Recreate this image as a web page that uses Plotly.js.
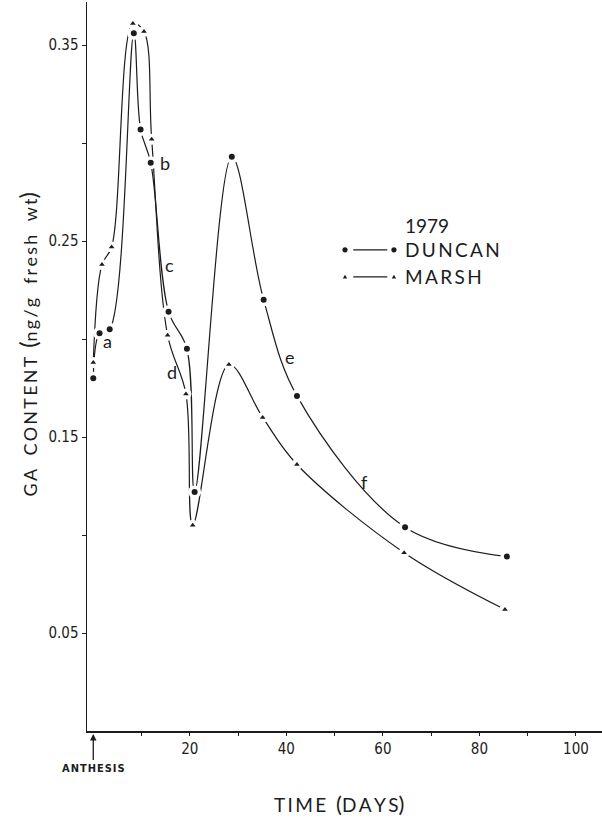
<!DOCTYPE html>
<html>
<head>
<meta charset="utf-8">
<script src="https://cdn.plot.ly/plotly-3.0.1.min.js"></script>
<style>html,body{margin:0;padding:0;background:#fff;}#chart{width:602px;height:819px;}</style>
</head>
<body>
<div id="chart"></div>
<script>
// ---- data (days after anthesis, GA content ng/g fresh wt) ----
const duncanDays = [0, 1.3, 3.4, 8.4, 9.8, 11.9, 15.6, 19.4, 21.0, 28.7, 35.3, 42.2, 64.6, 85.7];
const duncanGA   = [0.180, 0.203, 0.205, 0.356, 0.307, 0.290, 0.214, 0.195, 0.122, 0.293, 0.220, 0.171, 0.104, 0.089];
const marshDays  = [0, 1.8, 3.8, 8.2, 10.5, 12.1, 15.4, 19.2, 20.6, 28.1, 35.1, 42.2, 64.4, 85.3];
const marshGA    = [0.188, 0.238, 0.247, 0.361, 0.357, 0.302, 0.202, 0.172, 0.105, 0.187, 0.160, 0.136, 0.091, 0.062];

const yTickVals = [0.05, 0.10, 0.15, 0.20, 0.25, 0.30, 0.35];
const yTickText = ['0.05', '', '0.15', '', '0.25', '', '0.35'];
const xTickVals = [10, 20, 30, 40, 50, 60, 70, 80, 90, 100];
const xTickText = ['', '20', '', '40', '', '60', '', '80', '', '100'];

const curveLabels = ['a', 'b', 'c', 'd', 'e', 'f'];
const curveLabelX = [3.0, 14.8, 15.7, 16.3, 40.7, 56.1];
const curveLabelY = [0.199, 0.290, 0.238, 0.183, 0.191, 0.127];

const INK = '#1c1c1c';
const sans = 'Lato, "Open Sans", sans-serif';
const narrow = '"Liberation Sans Narrow", "DejaVu Sans Condensed", sans-serif';

function lineTrace(x, y) {
  return {x: x, y: y, mode: 'lines', type: 'scatter', hoverinfo: 'skip',
          line: {color: INK, width: 1.2, shape: 'spline', smoothing: 1.0}, showlegend: false};
}
function maskTrace(x, y, sym, size) {
  return {x: x, y: y, mode: 'markers', type: 'scatter', hoverinfo: 'skip', showlegend: false,
          marker: {symbol: sym, size: size, color: '#ffffff'}};
}
function markTrace(x, y, sym, size) {
  return {x: x, y: y, mode: 'markers', type: 'scatter', showlegend: false,
          marker: {symbol: sym, size: size, color: INK}};
}

const traces = [
  lineTrace(duncanDays, duncanGA),
  lineTrace(marshDays, marshGA),
  maskTrace(duncanDays, duncanGA, 'circle', 13),
  maskTrace(marshDays, marshGA, 'circle', 11),
  markTrace(duncanDays, duncanGA, 'circle', 6),
  markTrace(marshDays, marshGA, 'triangle-up', 5)
];

const annotations = curveLabels.map((t, i) => ({
  x: curveLabelX[i], y: curveLabelY[i], xref: 'x', yref: 'y', text: t, showarrow: false,
  font: {family: sans, size: 18, color: INK}
}));

annotations.push({
  x: 0, y: 0, xref: 'x', yref: 'y', text: 'A\u200aN\u200aT\u200aH\u200aE\u200aS\u200aI\u200aS', showarrow: true,
  arrowhead: 2, arrowsize: 1, arrowwidth: 1.3, arrowcolor: INK, ax: 0, ay: 37, standoff: 3,
  font: {family: '"DejaVu Sans Condensed", sans-serif', size: 11, color: INK, weight: 'bold'}
});
annotations.push({
  xref: 'paper', yref: 'paper', x: 0.49, y: -0.1, yanchor: 'middle', xanchor: 'center', showarrow: false,
  text: 'T\u2009I\u2009M\u2009E  <span style="font-size:22px">(</span>D\u2009A\u2009Y\u2009S<span style="font-size:22px">)</span>',
  font: {family: sans, size: 19, color: INK}
});
annotations.push({
  xref: 'paper', yref: 'paper', x: -0.115, y: 0.53, xanchor: 'center', yanchor: 'middle', showarrow: false,
  textangle: -90,
  text: 'G\u2009A   C\u2009O\u2009N\u2009T\u2009E\u2009N\u2009T  <span style="font-size:24px">(</span>n\u2009g\u2009/\u2009g   f\u2009r\u2009e\u2009s\u2009h   w\u2009t<span style="font-size:24px">)</span>',
  font: {family: sans, size: 18, color: INK}
});
// legend text
annotations.push({xref: 'paper', yref: 'paper', x: 0.614, y: 0.694, xanchor: 'left', yanchor: 'middle', showarrow: false,
  text: '1979', font: {family: sans, size: 19, color: INK}});
annotations.push({xref: 'paper', yref: 'paper', x: 0.614, y: 0.660, xanchor: 'left', yanchor: 'middle', showarrow: false,
  text: 'D\u2009U\u2009N\u2009C\u2009A\u2009N', font: {family: sans, size: 19, color: INK}});
annotations.push({xref: 'paper', yref: 'paper', x: 0.614, y: 0.623, xanchor: 'left', yanchor: 'middle', showarrow: false,
  text: 'M\u2009A\u2009R\u2009S\u2009H', font: {family: sans, size: 19, color: INK}});

function dot(xa, ya) {
  return {type: 'circle', xref: 'paper', yref: 'paper', xsizemode: 'pixel', ysizemode: 'pixel',
          xanchor: xa, yanchor: ya, x0: -2.6, x1: 2.6, y0: -2.6, y1: 2.6,
          fillcolor: INK, line: {width: 0}};
}
function tri(xa, ya) {
  return {type: 'path', xref: 'paper', yref: 'paper', xsizemode: 'pixel', ysizemode: 'pixel',
          xanchor: xa, yanchor: ya, path: 'M -2.2 -1.6 L 2.2 -1.6 L 0 2.2 Z',
          fillcolor: INK, line: {width: 0}};
}
const shapes = [
  dot(0.501, 0.660), dot(0.596, 0.660),
  {type: 'line', xref: 'paper', yref: 'paper', x0: 0.517, x1: 0.583, y0: 0.660, y1: 0.660, line: {color: INK, width: 1.2}},
  tri(0.501, 0.623), tri(0.596, 0.623),
  {type: 'line', xref: 'paper', yref: 'paper', x0: 0.517, x1: 0.583, y0: 0.623, y1: 0.623, line: {color: INK, width: 1.2}}
];

const layout = {
  width: 602, height: 819,
  margin: {l: 87, r: 0, t: 2, b: 88},
  paper_bgcolor: '#ffffff', plot_bgcolor: '#ffffff',
  showlegend: false,
  xaxis: {
    range: [-1.3, 105.4], showgrid: false, zeroline: false,
    showline: true, linecolor: INK, linewidth: 1.5,
    ticks: 'outside', ticklen: 3, tickwidth: 1, tickcolor: INK,
    tickvals: xTickVals, ticktext: xTickText,
    tickfont: {family: narrow, size: 15, color: INK}
  },
  yaxis: {
    range: [0, 0.372], showgrid: false, zeroline: false,
    showline: true, linecolor: INK, linewidth: 1.5,
    ticks: 'outside', ticklen: 4, tickwidth: 1, tickcolor: INK,
    tickvals: yTickVals, ticktext: yTickText,
    tickfont: {family: narrow, size: 15, color: INK}
  },
  annotations: annotations,
  shapes: shapes
};

Plotly.newPlot('chart', traces, layout, {staticPlot: true, displayModeBar: false});
</script>
</body>
</html>
